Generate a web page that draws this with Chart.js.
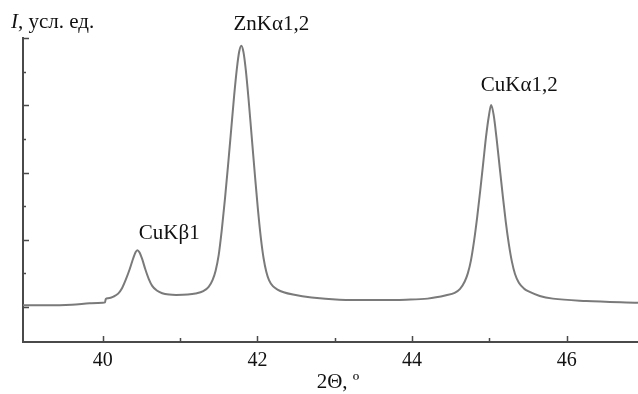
<!DOCTYPE html>
<html>
<head>
<meta charset="utf-8">
<script src="https://cdn.jsdelivr.net/npm/chart.js@4"></script>
<style>
  html, body { margin: 0; padding: 0; background: #fff; }
  #wrap { width: 638px; height: 394px; }
</style>
</head>
<body>
<div id="wrap"><canvas id="xrd"></canvas></div>
<script>
// ── Data ──────────────────────────────────────────────────
const theta = [
  38.97, 39.30, 39.60, 39.83, 40.00, 40.03, 40.04, 40.07, 40.14, 40.20,
  40.25, 40.30, 40.35, 40.395, 40.425, 40.448, 40.475, 40.51, 40.55, 40.595,
  40.64, 40.70, 40.77, 40.86, 40.95, 41.10, 41.20, 41.30, 41.37, 41.42,
  41.46, 41.50, 41.54, 41.58, 41.62, 41.66, 41.70, 41.735, 41.765, 41.792,
  41.82, 41.85, 41.885, 41.925, 41.965, 42.005, 42.045, 42.08, 42.115, 42.15,
  42.20, 42.26, 42.34, 42.46, 42.70, 43.06, 43.50, 43.92, 44.20, 44.44,
  44.55, 44.62, 44.68, 44.72, 44.76, 44.80, 44.84, 44.88, 44.92, 44.955,
  44.99, 45.022, 45.055, 45.09, 45.13, 45.17, 45.21, 45.25, 45.29, 45.33,
  45.38, 45.45, 45.52, 45.65, 45.82, 46.25, 46.92
];
const intensity = [
  0.05, 0.05, 0.07, 0.11, 0.13, 0.14, 0.24, 0.26, 0.31, 0.40,
  0.56, 0.82, 1.13, 1.45, 1.63, 1.69, 1.63, 1.43, 1.13, 0.84,
  0.63, 0.49, 0.41, 0.37, 0.36, 0.37, 0.40, 0.47, 0.60, 0.80,
  1.08, 1.55, 2.30, 3.20, 4.20, 5.25, 6.30, 7.10, 7.60, 7.77,
  7.58, 7.05, 6.20, 5.10, 4.00, 2.95, 2.05, 1.45, 1.05, 0.80,
  0.62, 0.52, 0.44, 0.37, 0.28, 0.22, 0.21, 0.22, 0.25, 0.35,
  0.42, 0.54, 0.76, 1.00, 1.38, 1.95, 2.65, 3.45, 4.30, 5.05,
  5.65, 6.01, 5.70, 5.05, 4.20, 3.35, 2.55, 1.88, 1.35, 0.98,
  0.72, 0.54, 0.45, 0.33, 0.25, 0.18, 0.13
];
const xMajorTicks = [40, 42, 44, 46];
const xMinorTicks = [41, 43, 45];
const yTicks = [0, 1, 2, 3, 4, 5, 6, 7, 8];
const peakNames = ['CuKβ1', 'ZnKα1,2', 'CuKα1,2'];
const peakAt    = [[40.86, 2.20], [42.18, 8.40], [45.385, 6.58]];

const FONT = "'Liberation Serif', 'Times New Roman', serif";
const AXIS = '#4a4a4a';

// ── Inward ticks, captions and peak names ─────────────────
const decor = {
  id: 'decor',
  afterDraw(chart) {
    const { ctx, chartArea: a, scales: { x, y } } = chart;
    ctx.save();
    ctx.strokeStyle = AXIS;
    ctx.lineWidth = 1.5;
    ctx.beginPath();
    xMajorTicks.concat(xMinorTicks).forEach(v => {
      const px = Math.round(x.getPixelForValue(v)) + 0.5;
      const len = xMajorTicks.includes(v) ? 6 : 4;
      ctx.moveTo(px, a.bottom);
      ctx.lineTo(px, a.bottom - len);
    });
    yTicks.forEach(v => {
      const py = Math.round(y.getPixelForValue(v)) + 0.5;
      const len = v % 2 === 0 ? 6 : 3;
      ctx.moveTo(a.left, py);
      ctx.lineTo(a.left + len, py);
    });
    ctx.stroke();

    ctx.fillStyle = '#111';
    ctx.font = '21px ' + FONT;
    ctx.textAlign = 'center';
    ctx.textBaseline = 'middle';
    peakNames.forEach((name, i) => {
      ctx.fillText(name, x.getPixelForValue(peakAt[i][0]), y.getPixelForValue(peakAt[i][1]));
    });

    // x caption, a little right of the axis centre as in the source
    ctx.fillText('2Θ, º', 338, 382);

    ctx.textAlign = 'left';
    ctx.font = 'italic 21px ' + FONT;
    ctx.fillText('I', 11, 22);
    const w = ctx.measureText('I').width;
    ctx.font = '21px ' + FONT;
    ctx.fillText(', усл. ед.', 11 + w, 22);
    ctx.restore();
  }
};

new Chart(document.getElementById('xrd'), {
  type: 'line',
  data: {
    datasets: [{
      data: theta.map((t, i) => ({ x: t, y: intensity[i] })),
      borderColor: '#7a7a7a',
      borderWidth: 2,
      pointRadius: 0,
      cubicInterpolationMode: 'monotone',
      fill: false
    }]
  },
  options: {
    responsive: true,
    maintainAspectRatio: false,
    animation: false,
    layout: { padding: { top: 38, right: 0, left: 0, bottom: 0 } },
    plugins: { legend: { display: false }, tooltip: { enabled: false } },
    scales: {
      x: {
        type: 'linear',
        min: 38.97,
        max: 46.92,
        grid: { display: false, drawTicks: false },
        border: { display: true, color: AXIS, width: 2 },
        afterBuildTicks: s => { s.ticks = xMajorTicks.map(v => ({ value: v })); },
        ticks: {
          color: '#111',
          padding: 7,
          maxRotation: 0,
          font: { family: FONT, size: 20 }
        },
        afterFit: s => { s.height = 52; }
      },
      y: {
        min: -1.04,
        max: 8,
        grid: { display: false, drawTicks: false },
        border: { display: true, color: AXIS, width: 2 },
        ticks: { display: false },
        afterFit: s => { s.width = 23; }
      }
    }
  },
  plugins: [decor]
});
</script>
</body>
</html>
